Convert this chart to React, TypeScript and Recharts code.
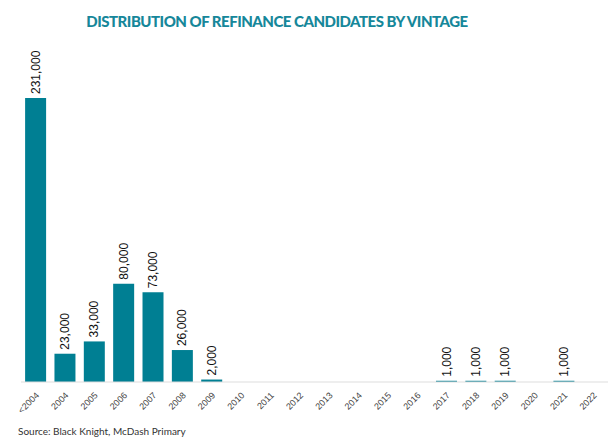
import React from 'react'
import { BarChart, Bar, XAxis, YAxis, LabelList } from 'recharts'

const vintages = ['<2004', '2004', '2005', '2006', '2007', '2008', '2009', '2010', '2011', '2012', '2013', '2014', '2015', '2016', '2017', '2018', '2019', '2020', '2021', '2022']
const candidates = [231000, 23000, 33000, 80000, 73000, 26000, 2000, 0, 0, 0, 0, 0, 0, 0, 1000, 1000, 1000, 0, 1000, 0]

const data = vintages.map((v, i) => ({ vintage: v, count: candidates[i] }))

const teal = '#007f93'

const Tick = (props: any) => {
  const { x, y, payload } = props
  return (
    <text
      x={x + 4}
      y={y + 6}
      transform={`rotate(-45, ${x + 4}, ${y + 6})`}
      textAnchor="end"
      fontSize={9}
      fill="#444"
      fontFamily="Liberation Sans, Arial, sans-serif"
    >
      {payload.value}
    </text>
  )
}

const ValueLabel = (props: any) => {
  const { x, y, width, value } = props
  if (!value) return null
  const cx = x + width / 2
  const ty = y - 4
  return (
    <text
      x={cx}
      y={ty}
      transform={`rotate(-90, ${cx}, ${ty})`}
      textAnchor="start"
      dominantBaseline="central"
      fontSize={12}
      fill="#111"
      fontFamily="Liberation Sans, Arial, sans-serif"
    >
      {Number(value).toLocaleString('en-US')}
    </text>
  )
}

const App = () => {
  return (
    <div style={{ position: 'absolute', left: 0, top: 0, width: 610, height: 444, background: '#fff' }}>
      <div
        style={{
          position: 'absolute',
          top: 12,
          left: 0,
          width: 554,
          textAlign: 'center',
          color: '#16879a',
          fontFamily: 'Lato, sans-serif',
          fontWeight: 900,
          fontSize: 15,
          letterSpacing: '-0.5px',
        }}
      >
        DISTRIBUTION OF REFINANCE CANDIDATES BY VINTAGE
      </div>
      <BarChart
        width={610}
        height={444}
        data={data}
        margin={{ top: 98, right: 2, bottom: 0, left: 21 }}
        barCategoryGap="14%"
      >
        <XAxis
          dataKey="vintage"
          interval={0}
          height={62}
          tickLine={false}
          axisLine={{ stroke: '#dddddd' }}
          tick={<Tick />}
        />
        <YAxis hide domain={[0, 231000]} />
        <Bar dataKey="count" fill={teal} isAnimationActive={false}>
          <LabelList dataKey="count" content={<ValueLabel />} />
        </Bar>
      </BarChart>
      <div
        style={{
          position: 'absolute',
          left: 18,
          top: 425,
          fontSize: 10,
          color: '#333',
          fontFamily: 'Lato, Open Sans, sans-serif',
        }}
      >
        Source: Black Knight, McDash Primary
      </div>
    </div>
  )
}

export default App
